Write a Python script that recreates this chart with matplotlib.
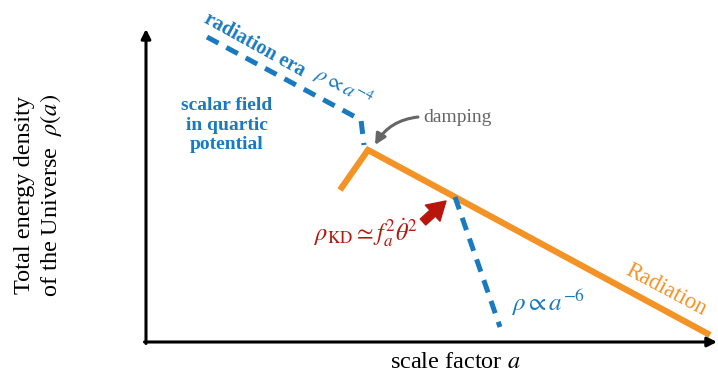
import matplotlib
matplotlib.use('Agg')
import matplotlib.pyplot as plt

plt.rcParams['font.family'] = ['Liberation Serif', 'DejaVu Serif']
plt.rcParams['mathtext.fontset'] = 'stix'

# schematic curves (arbitrary units, origin at the axes corner)
orange_x = [194, 222, 564]
orange_y = [152, 192, 7]
rad_x = [61, 215, 218]
rad_y = [305, 222, 197]
kd_x = [309, 354]
kd_y = [145, 15]

blue = '#1a7abf'
orange = '#f39325'
red = '#b8160c'
gray = '#666666'

fig = plt.figure(figsize=(7.18, 3.76), dpi=100)
ax = fig.add_axes([0, 0, 1, 1])
ax.set_xlim(-146, 572)
ax.set_ylim(-34, 342)
ax.axis('off')

# axes with arrows
ax.annotate('', xy=(571, 0), xytext=(-1.5, 0),
            arrowprops=dict(arrowstyle='-|>', lw=2.2, color='black', mutation_scale=14,
                            shrinkA=0, shrinkB=0))
ax.annotate('', xy=(0, 313), xytext=(0, -1.5),
            arrowprops=dict(arrowstyle='-|>', lw=2.2, color='black', mutation_scale=14,
                            shrinkA=0, shrinkB=0))

ax.plot(orange_x, orange_y, color=orange, lw=4.5, solid_joinstyle='miter', solid_capstyle='butt')
ax.plot(rad_x, rad_y, color=blue, lw=3.6, dashes=(2.6, 1.8))
ax.plot(kd_x, kd_y, color=blue, lw=3.6, dashes=(2.6, 1.8))

# labels
ax.text(109, 297, 'radiation era', color=blue, fontsize=14.5, fontweight='bold',
        rotation=-29, ha='center', va='center')
ax.text(197, 255, r'$\rho \propto a^{-4}$', color=blue, fontsize=15,
        rotation=-29, ha='center', va='center')
ax.text(81, 217, 'scalar field\nin quartic\npotential', color=blue, fontsize=14,
        fontweight='bold', ha='center', va='center', linespacing=1.2)
ax.text(277, 225, 'damping', color=gray, fontsize=14, ha='left', va='center')
ax.annotate('', xy=(229, 197), xytext=(272, 225),
            arrowprops=dict(arrowstyle='-|>', lw=2.2, color=gray, mutation_scale=16,
                            connectionstyle='arc3,rad=0.25', shrinkA=0, shrinkB=0))
ax.text(220, 109, r'$\rho_{\rm KD} \simeq f_a^2\dot{\theta}^2$', color=red, fontsize=17.5,
        ha='center', va='center')
ax.annotate('', xy=(300, 141), xytext=(277, 120),
            arrowprops=dict(arrowstyle='simple,head_width=1.2,head_length=1.0,tail_width=0.45',
                            color=red, mutation_scale=13, shrinkA=0, shrinkB=0))
ax.text(402, 39, r'$\rho \propto a^{-6}$', color=blue, fontsize=18, ha='center', va='center')
ax.text(520, 52, 'Radiation', color=orange, fontsize=16.5, rotation=-28,
        ha='center', va='center')

ax.text(309, -20, r'scale factor $a$', fontsize=17.5, ha='center', va='center')
ax.text(-107, 147, 'Total energy density\nof the Universe  $\\rho(a)$', fontsize=17.5,
        rotation=90, ha='center', va='center', linespacing=1.15)

fig.savefig('out.png', dpi=100)
